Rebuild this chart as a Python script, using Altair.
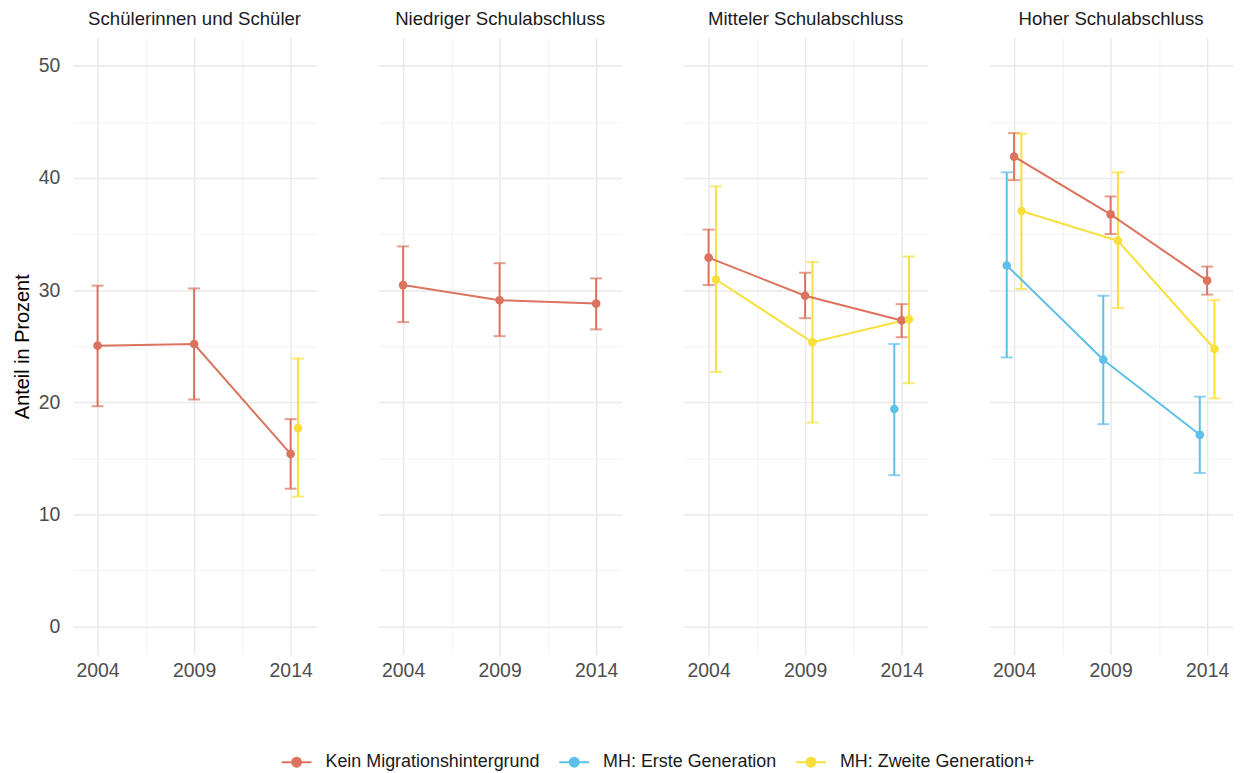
import altair as alt
import pandas as pd

# ---- data -----------------------------------------------------------
panels = ["Schülerinnen und Schüler", "Niedriger Schulabschluss",
          "Mitteler Schulabschluss", "Hoher Schulabschluss"]
groups = ["Kein Migrationshintergrund", "MH: Erste Generation", "MH: Zweite Generation+"]
colors = ["#DC735E", "#5EBFE9", "#F8DF3B"]
year_ticks = [2004, 2006.5, 2009, 2011.5, 2014]
pct_ticks = [0, 5, 10, 15, 20, 25, 30, 35, 40, 45, 50]

P1, P2, P3, P4 = panels
G0, G1, G2 = groups

obs_panel = [P1, P1, P1, P1,
             P2, P2, P2,
             P3, P3, P3, P3, P3, P3, P3,
             P4, P4, P4, P4, P4, P4, P4, P4, P4]
obs_group = [G0, G0, G0, G2,
             G0, G0, G0,
             G0, G0, G0, G1, G2, G2, G2,
             G0, G0, G0, G1, G1, G1, G2, G2, G2]
obs_year = [2004, 2009, 2014, 2014,
            2004, 2009, 2014,
            2004, 2009, 2014, 2014, 2004, 2009, 2014,
            2004, 2009, 2014, 2004, 2009, 2014, 2004, 2009, 2014]
obs_value = [25.05, 25.2, 15.4, 17.7,
             30.45, 29.1, 28.8,
             32.9, 29.5, 27.3, 19.4, 30.95, 25.35, 27.4,
             41.9, 36.75, 30.85, 32.2, 23.8, 17.1, 37.05, 34.4, 24.75]
obs_lower = [19.65, 20.25, 12.3, 11.6,
             27.15, 25.9, 26.5,
             30.45, 27.5, 25.8, 13.5, 22.7, 18.2, 21.7,
             39.8, 35.0, 29.6, 24.0, 18.05, 13.7, 30.1, 28.4, 20.35]
obs_upper = [30.4, 30.15, 18.5, 23.9,
             33.9, 32.4, 31.05,
             35.4, 31.55, 28.75, 25.2, 39.25, 32.5, 33.0,
             44.0, 38.35, 32.1, 40.5, 29.5, 20.5, 43.95, 40.5, 29.1]

df = pd.DataFrame({
    "panel": obs_panel, "group": obs_group, "year": obs_year,
    "value": obs_value, "lower": obs_lower, "upper": obs_upper,
})

# ---- encodings ------------------------------------------------------
FONT = "Liberation Sans"

x_enc = alt.X(
    "xpos:Q",
    scale=alt.Scale(domain=[2002.71, 2015.34], nice=False, zero=False),
    axis=alt.Axis(
        values=year_ticks, title=None, format="d",
        labelExpr="(datum.value - 2004) % 5 === 0 ? datum.label : ''",
        gridColor={"condition": {"test": "(datum.value - 2004) % 5 !== 0", "value": "#F2F2F2"},
                   "value": "#E9E9E9"},
        gridWidth={"condition": {"test": "(datum.value - 2004) % 5 !== 0", "value": 1.0},
                   "value": 1.5},
    ),
)
y_axis = alt.Axis(
    values=pct_ticks, title="Anteil in Prozent",
    labelExpr="datum.value % 10 === 0 ? datum.label : ''",
    gridColor={"condition": {"test": "datum.value % 10 !== 0", "value": "#F2F2F2"},
               "value": "#E9E9E9"},
    gridWidth={"condition": {"test": "datum.value % 10 !== 0", "value": 1.0},
               "value": 1.5},
)
y_scale = alt.Scale(domain=[-2.5, 52.5], nice=False, zero=False)

legend = alt.Legend(
    title=None, orient="none", direction="horizontal",
    legendX=209, legendY=712,
    symbolType="M-1,0L1,0M0.3,0A0.3,0.3,0,1,1,-0.3,0A0.3,0.3,0,1,1,0.3,0Z",
    symbolSize=900, symbolStrokeWidth=2, symbolOpacity=1,
    labelFontSize=18, labelFont=FONT, labelColor="#1A1A1A", labelLimit=0,
    labelOffset=13, columnPadding=15,
)
color_enc = alt.Color("group:N", scale=alt.Scale(domain=groups, range=colors), legend=legend)

base = alt.Chart().transform_calculate(
    xpos="datum.year + (datum.group === 'MH: Erste Generation' ? -0.38 : "
         "(datum.group === 'MH: Zweite Generation+' ? 0.38 : 0))"
)

errbars = base.mark_errorbar(ticks={"size": 12, "thickness": 2}, thickness=2).encode(
    x=x_enc,
    y=alt.Y("lower:Q", scale=y_scale, axis=y_axis),
    y2="upper:Q",
    color=color_enc,
)
lines = base.mark_line(strokeWidth=2).encode(
    x=x_enc,
    y=alt.Y("value:Q", scale=y_scale, axis=y_axis),
    color=color_enc,
)
points = base.mark_circle(size=75, opacity=1).encode(
    x=x_enc,
    y=alt.Y("value:Q", scale=y_scale, axis=y_axis),
    color=color_enc,
)

layered = alt.layer(errbars, lines, points, data=df).properties(width=245, height=620)

chart = layered.facet(
    column=alt.Column(
        "panel:N", sort=panels,
        header=alt.Header(title=None, labelFontSize=18.7, labelFont=FONT,
                          labelColor="#1A1A1A", labelPadding=9),
    ),
    spacing=62,
).properties(
    padding={"left": 4, "top": 0, "right": 0, "bottom": 0}
).configure_view(stroke=None).configure_axis(
    labelFont=FONT, labelFontSize=19.5, labelColor="#4D4D4D",
    ticks=False, domain=False,
    titleFont=FONT, titleFontSize=20, titleColor="#000000", titleFontWeight="normal",
    labelPadding=7,
).configure_axisY(
    labelPadding=13, titlePadding=6,
)

chart.save("out.html", embed_options={"renderer": "svg", "actions": False})
